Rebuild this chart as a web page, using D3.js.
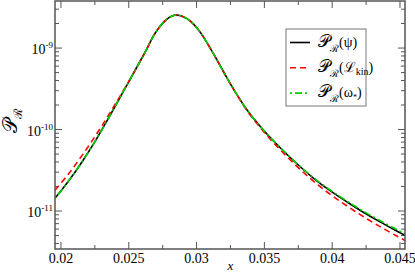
<!DOCTYPE html>
<html>
<head>
<meta charset="utf-8">
<script src="https://cdn.jsdelivr.net/npm/d3@7"></script>
<style>
  body { margin: 0; background: #fff; }
  text { font-family: "Liberation Serif", "DejaVu Serif", serif; }
</style>
</head>
<body>
<svg id="chart"></svg>
<script>
/*
    LAYOUT
*/
var width = 415;
var height = 273;
var margin = {top: 1, right: 10, bottom: 24, left: 55};
var w = width - margin.left - margin.right;
var h = height - margin.top - margin.bottom;

/*
    DATA
    one shared x grid, one array of P_R values per curve
*/
var xs = [0.01956, 0.02056, 0.02156, 0.02256, 0.02356, 0.02456, 0.02556, 0.0262, 0.02693, 0.02767,
          0.02815, 0.02855, 0.02902, 0.02952, 0.03025, 0.03123, 0.03247, 0.0337, 0.03492, 0.03615,
          0.03738, 0.03861, 0.03984, 0.04107, 0.0423, 0.04353, 0.04476, 0.04537];

var pPsi = [1.43e-11, 2.33e-11, 4.03e-11, 7.36e-11, 1.43e-10, 2.85e-10, 5.69e-10, 8.85e-10, 1.51e-9, 2.16e-9,
            2.45e-9, 2.55e-9, 2.42e-9, 2.16e-9, 1.58e-9, 8.6e-10, 3.69e-10, 1.76e-10, 9.89e-11, 6.03e-11,
            3.83e-11, 2.54e-11, 1.78e-11, 1.30e-11, 9.66e-12, 7.35e-12, 5.69e-12, 5.02e-12];

var pLkin = [1.80e-11, 2.86e-11, 4.82e-11, 8.45e-11, 1.55e-10, 2.93e-10, 5.69e-10, 8.85e-10, 1.51e-9, 2.16e-9,
             2.45e-9, 2.55e-9, 2.42e-9, 2.16e-9, 1.58e-9, 8.6e-10, 3.69e-10, 1.73e-10, 9.53e-11, 5.70e-11,
             3.56e-11, 2.33e-11, 1.61e-11, 1.16e-11, 8.53e-12, 6.43e-12, 4.94e-12, 4.35e-12];

var pOmega = [1.43e-11, 2.33e-11, 4.03e-11, 7.36e-11, 1.43e-10, 2.85e-10, 5.69e-10, 8.85e-10, 1.51e-9, 2.16e-9,
              2.45e-9, 2.55e-9, 2.42e-9, 2.16e-9, 1.58e-9, 8.6e-10, 3.69e-10, 1.76e-10, 9.9e-11, 6.05e-11,
              3.86e-11, 2.57e-11, 1.82e-11, 1.33e-11, 9.95e-12, 7.62e-12, 5.93e-12, 5.26e-12];

var xTicks = [0.02, 0.025, 0.03, 0.035, 0.04, 0.045];
var xTickLabels = ["0.02", "0.025", "0.03", "0.035", "0.04", "0.045"];
var yTicks = [1e-11, 1e-10, 1e-9];
var yTickExps = ["-11", "-10", "-9"];

/*
    SCALES
*/
var x = d3.scaleLinear().domain([0.01956, 0.04537]).range([0, w]);
var y = d3.scaleLog().domain([3.42e-12, 3.78e-9]).range([h, 0]);

var svg = d3.select("#chart").attr("width", width).attr("height", height);
var g = svg.append("g").attr("transform", "translate(" + margin.left + "," + margin.top + ")");

// minor ticks
var xMinor = d3.range(0.0225, 0.046, 0.005);
var yMinor = [];
[-12, -11, -10, -9].forEach(function(e) {
  for (var k = 2; k <= 9; k++) {
    var v = k * Math.pow(10, e);
    if (v >= y.domain()[0] && v <= y.domain()[1]) yMinor.push(v);
  }
});

var tickCol = "#555";
function addTicks(vals, len, orient) {
  vals.forEach(function(v) {
    if (orient === "x") {
      g.append("line").attr("x1", x(v)).attr("x2", x(v)).attr("y1", h).attr("y2", h - len)
        .attr("stroke", tickCol).attr("stroke-width", 1);
      g.append("line").attr("x1", x(v)).attr("x2", x(v)).attr("y1", 0).attr("y2", len)
        .attr("stroke", tickCol).attr("stroke-width", 1);
    } else {
      g.append("line").attr("x1", 0).attr("x2", len).attr("y1", y(v)).attr("y2", y(v))
        .attr("stroke", tickCol).attr("stroke-width", 1);
      g.append("line").attr("x1", w).attr("x2", w - len).attr("y1", y(v)).attr("y2", y(v))
        .attr("stroke", tickCol).attr("stroke-width", 1);
    }
  });
}
addTicks(xTicks, 7, "x");
addTicks(xMinor, 4, "x");
addTicks(yTicks, 7, "y");
addTicks(yMinor, 4, "y");

// tick labels
xTicks.forEach(function(v, i) {
  g.append("text").attr("x", x(v)).attr("y", h + 14).attr("text-anchor", "middle")
    .attr("font-size", 14).text(xTickLabels[i]);
});
yTicks.forEach(function(v, i) {
  var t = g.append("text").attr("x", -2).attr("y", y(v) + 6).attr("text-anchor", "end").attr("font-size", 14);
  t.append("tspan").text("10");
  t.append("tspan").attr("dy", -6).attr("font-size", 9).text(yTickExps[i]);
});

// axis titles
svg.append("text").attr("x", margin.left + x(0.0325)).attr("y", 270).attr("text-anchor", "middle")
  .attr("font-size", 13).attr("font-style", "italic").text("x");

var yl = svg.append("text").attr("transform", "translate(17,121) rotate(-90)")
  .attr("text-anchor", "middle").attr("font-size", 20);
yl.append("tspan").text("\uD835\uDCAB");
yl.append("tspan").attr("dy", 5).attr("font-size", 12).text("\u211B");

// curves
var line = d3.line().curve(d3.curveCatmullRom.alpha(0.5))
  .x(function(d) { return x(d[0]); })
  .y(function(d) { return y(d[1]); });

var series = [
  {ps: pPsi, color: "#000", dash: null},
  {ps: pLkin, color: "#ff0000", dash: "6,4"},
  {ps: pOmega, color: "#00d000", dash: "2,3,7,3"}
];

g.append("clipPath").attr("id", "clip").append("rect").attr("width", w).attr("height", h);

series.forEach(function(s) {
  var pts = xs.map(function(v, i) { return [v, s.ps[i]]; });
  g.append("path").datum(pts).attr("d", line).attr("fill", "none")
    .attr("stroke", s.color).attr("stroke-width", 1.6)
    .attr("stroke-dasharray", s.dash).attr("clip-path", "url(#clip)");
});

// frame
g.append("rect").attr("width", w).attr("height", h).attr("fill", "none")
  .attr("stroke", tickCol).attr("stroke-width", 1.5);

// legend
var lg = svg.append("g").attr("transform", "translate(286,29)");
lg.append("rect").attr("width", 80).attr("height", 77).attr("fill", "#fff")
  .attr("stroke", "#777").attr("stroke-width", 1);
series.forEach(function(s, i) {
  var ly = 13.5 + i * 25.3;
  lg.append("line").attr("x1", 4).attr("x2", 24).attr("y1", ly).attr("y2", ly)
    .attr("stroke", s.color).attr("stroke-width", 1.6).attr("stroke-dasharray", s.dash);
  var t = lg.append("text").attr("x", 32).attr("y", ly + 4).attr("font-size", 17);
  t.append("tspan").text("\uD835\uDCAB");
  t.append("tspan").attr("dy", 5).attr("font-size", 10).text("\u211B");
  if (i === 1) {
    t.append("tspan").attr("dy", -5).attr("font-size", 14).text("(\u2112");
    t.append("tspan").attr("dy", 3).attr("font-size", 10).text("kin");
    t.append("tspan").attr("dy", -3).attr("font-size", 14).text(")");
  } else if (i === 2) {
    t.append("tspan").attr("dy", -5).attr("font-size", 14).text("(\u03C9");
    t.append("tspan").attr("dy", 3).attr("font-size", 8).text("*");
    t.append("tspan").attr("dy", -3).attr("font-size", 14).text(")");
  } else {
    t.append("tspan").attr("dy", -5).attr("font-size", 14).text("(\u03C8)");
  }
});
</script>
</body>
</html>
